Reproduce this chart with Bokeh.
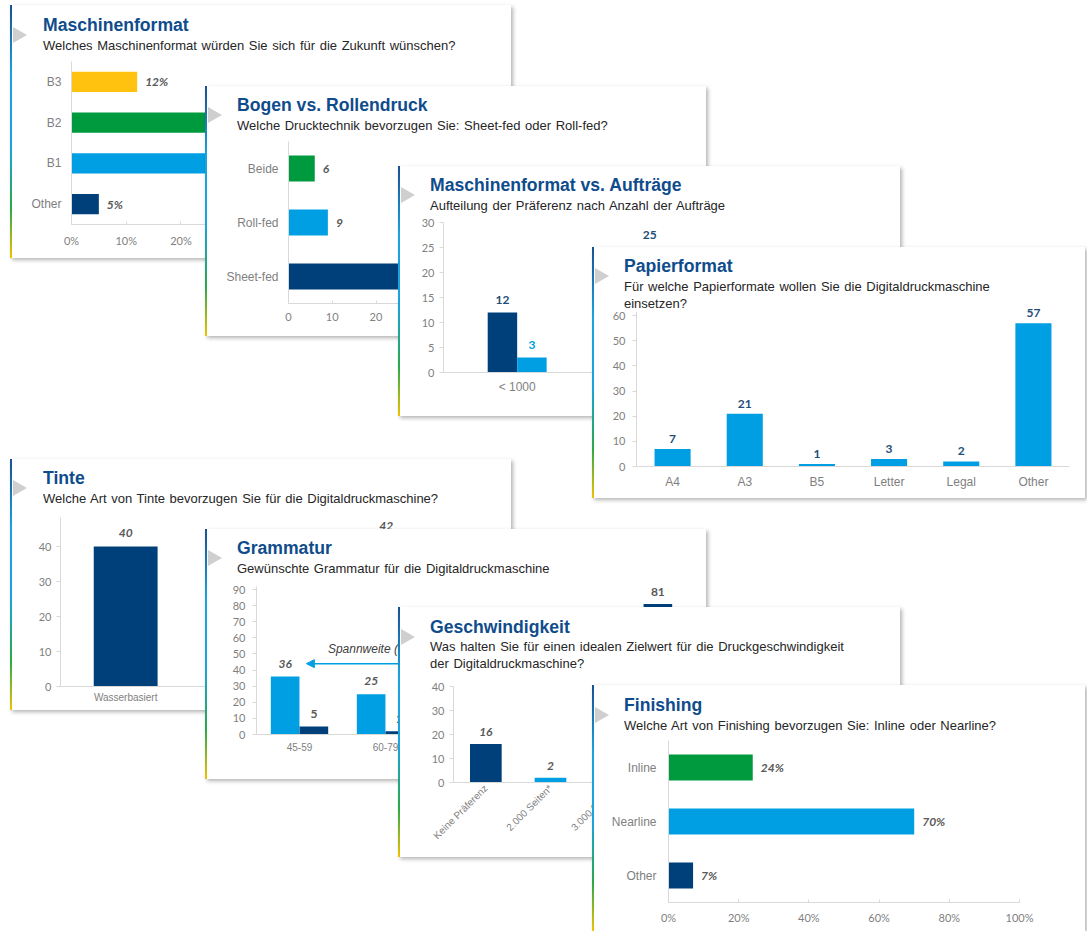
import math
from bokeh.plotting import figure
from bokeh.models import (ColumnDataSource, FactorRange, Range1d, Label, LabelSet, Div,
                          Arrow, NormalHead, NumeralTickFormatter, SingleIntervalTicker, Column)
from bokeh.transform import dodge
from bokeh.embed import file_html
from bokeh.resources import INLINE
from bokeh.core.properties import value

# ---------------- data ----------------
# 1 Maschinenformat
fmt_cats = ["B3", "B2", "B1", "Other"]
fmt_vals = [0.12, 0.41, 0.42, 0.05]
# 2 Bogen vs. Rollendruck
druck_cats = ["Beide", "Roll-fed", "Sheet-fed"]
druck_vals = [6, 9, 66]
# 3 Maschinenformat vs. Aufträge
auf_cats = ["< 1000", "1000 - 5000", "> 5000"]
auf_dark = [12, 25, 8]
auf_light = [3, 9, 4]
# 4 Papierformat
pap_cats = ["A4", "A3", "B5", "Letter", "Legal", "Other"]
pap_vals = [7, 21, 1, 3, 2, 57]
# 5 Tinte
tinte_cats = ["Wasserbasiert", "Lösemittel", "UV-härtend"]
tinte_vals = [40, 17, 42]
# 6 Grammatur
gram_cats = ["45-59", "60-79", "80-99", "100-149", "150-300"]
gram_light = [36, 25, 22, 14, 6]
gram_dark = [5, 2, 10, 30, 81]
# 7 Geschwindigkeit
gesch_cats = ["Keine Präferenz", "2.000 Seiten*", "3.000 Seiten*", "4.000 Seiten*",
              "5.000 Seiten*", "> 5.000 Seiten*"]
gesch_vals = [16, 2, 6, 11, 19, 35]
# 8 Finishing
fin_cats = ["Inline", "Nearline", "Other"]
fin_vals = [0.24, 0.70, 0.07]

# ---------------- style ----------------
DARK = "#00407a"
LIGHT = "#009fe3"
GREEN = "#009a3e"
YELLOW = "#ffc20e"
TITLE_C = "#0f4c8c"
SUB_C = "#262626"
TICK_C = "#7f7f7f"
AXIS_C = "#d9d9d9"
VAL_C = "#595959"
SANS = "Liberation Sans"
NUM = "Lato"

GRADIENT = ("linear-gradient(to bottom, #1b4f8f 0%, #1aa3e0 28%, #1aa3e0 55%, "
            "#2aa84a 80%, #f3c300 100%) 1")


def make_card(L, T, right, bottom, frame, x_range, y_range, title, subs):
    """Card placed in page pixels; returns (card_layout, figure)."""
    CL = L + 2
    CW = right - CL
    H = bottom - T
    fx0, fy0, fx1, fy1 = frame
    tx, ty, ttext = title
    cy = (ty + subs[0][1]) / 2.0
    parts = [
        f'<div style="position:absolute;left:1px;top:{cy - T - 8:.1f}px;width:0;height:0;'
        f'border-top:8px solid transparent;border-bottom:8px solid transparent;'
        f'border-left:14px solid #cfcfcf;"></div>',
        f'<div style="position:absolute;left:{tx - CL}px;top:{ty - T - 10:.1f}px;'
        f'font-family:\'{SANS}\';font-size:17.6px;font-weight:bold;line-height:20px;'
        f'color:{TITLE_C};white-space:nowrap;">{ttext}</div>',
    ]
    for (ux, uy, utext) in subs:
        parts.append(
            f'<div style="position:absolute;left:{ux - CL}px;top:{uy - T - 8.5:.1f}px;'
            f'font-family:\'{SANS}\';font-size:13px;line-height:17px;color:{SUB_C};'
            f'background:white;white-space:nowrap;word-spacing:1px;">{utext}</div>')
    DH = int(subs[-1][1] - T + 10)
    html = (f'<div style="position:relative;width:{CW}px;height:{DH}px;margin:0;padding:0;">'
            + "".join(parts) + '</div>')
    div = Div(text=html, width=CW, height=DH,
              styles={"position": "absolute", "left": "0px", "top": "0px",
                      "z-index": "2", "overflow": "visible", "margin": "0"})

    p = figure(width=CW, height=H, x_range=x_range, y_range=y_range,
               output_backend="svg", toolbar_location=None, title=None,
               min_border_left=fx0 - CL, min_border_top=fy0 - T,
               min_border_right=CL + CW - fx1, min_border_bottom=T + H - fy1,
               background_fill_color="white", border_fill_color="white",
               outline_line_color=None, frame_align=False)
    p.grid.visible = False
    card = Column(children=[p, div], width=CW, height=H, spacing=0,
                  styles={"position": "absolute", "left": f"{L}px", "top": f"{T}px",
                          "background-color": "white",
                          "border-left": "2px solid #1aa3e0", "border-image": GRADIENT,
                          "box-shadow": "2px 2px 4px rgba(0,0,0,0.30)"})
    return card, p


def style_axis(ax, size, font, out=0, inn=0, standoff=6, ticks=True):
    ax.axis_line_color = AXIS_C
    ax.major_tick_line_color = AXIS_C if ticks else None
    ax.major_tick_out = out
    ax.major_tick_in = inn
    ax.minor_tick_line_color = None
    ax.major_label_text_color = TICK_C
    ax.major_label_text_font = font
    ax.major_label_text_font_size = size
    ax.major_label_standoff = standoff


def val_labels(p, src, x, y, text, color=VAL_C, style="bold italic", xo=0, yo=0,
               align="center", baseline="bottom", size="12px"):
    p.add_layout(LabelSet(x=x, y=y, text=text, source=src, x_offset=xo, y_offset=yo,
                          text_font=value(NUM), text_font_style=style, text_font_size=size,
                          text_color=color, text_align=align, text_baseline=baseline))


def pct(v):
    return f"{round(v * 100)}%"


cards = []

# ---- 1 Maschinenformat ----
c1, p1 = make_card(10, 5, 513, 258, (71, 61, 456, 224), Range1d(0, 0.7),
                   FactorRange(factors=list(reversed(fmt_cats))),
                   (43, 25, "Maschinenformat"),
                   [(43, 45, "Welches Maschinenformat würden Sie sich für die Zukunft wünschen?")])
s1 = ColumnDataSource(dict(cat=fmt_cats, val=fmt_vals, color=[YELLOW, GREEN, LIGHT, DARK],
                           label=[pct(v) for v in fmt_vals]))
p1.hbar(y="cat", left=0, right="val", height=0.5, color="color", line_color=None, source=s1)
val_labels(p1, s1, "val", "cat", "label", xo=8, align="left", baseline="middle")
p1.xaxis.ticker = SingleIntervalTicker(interval=0.1)
p1.xaxis.formatter = NumeralTickFormatter(format="0%")
style_axis(p1.xaxis[0], "11px", NUM, inn=3, standoff=5)
style_axis(p1.yaxis[0], "12px", SANS, standoff=10, ticks=False)
cards.append(c1)

# ---- 2 Bogen vs. Rollendruck ----
c2, p2 = make_card(205, 86, 708, 336, (288, 141, 640, 303), Range1d(0, 80),
                   FactorRange(factors=list(reversed(druck_cats))),
                   (237, 105, "Bogen vs. Rollendruck"),
                   [(237, 125, "Welche Drucktechnik bevorzugen Sie: Sheet-fed oder Roll-fed?")])
s2 = ColumnDataSource(dict(cat=druck_cats, val=druck_vals, color=[GREEN, LIGHT, DARK],
                           label=[str(v) for v in druck_vals]))
p2.hbar(y="cat", left=0, right="val", height=0.48, color="color", line_color=None, source=s2)
val_labels(p2, s2, "val", "cat", "label", xo=8, align="left", baseline="middle")
p2.xaxis.ticker = SingleIntervalTicker(interval=10)
style_axis(p2.xaxis[0], "11px", NUM, inn=3, standoff=5)
style_axis(p2.yaxis[0], "12px", SANS, standoff=10, ticks=False)
cards.append(c2)

# ---- 3 Maschinenformat vs. Aufträge ----
c3, p3 = make_card(398, 166, 902, 416, (443, 222, 887, 372), FactorRange(factors=auf_cats),
                   Range1d(0, 30),
                   (430, 185, "Maschinenformat vs. Aufträge"),
                   [(430, 205, "Aufteilung der Präferenz nach Anzahl der Aufträge")])
s3 = ColumnDataSource(dict(cat=auf_cats, dark=auf_dark, light=auf_light,
                           dl=[str(v) for v in auf_dark], ll=[str(v) for v in auf_light]))
p3.vbar(x=dodge("cat", -0.1, range=p3.x_range), top="dark", width=0.2, color=DARK,
        line_color=None, source=s3)
p3.vbar(x=dodge("cat", 0.1, range=p3.x_range), top="light", width=0.2, color=LIGHT,
        line_color=None, source=s3)
val_labels(p3, s3, dodge("cat", -0.1, range=p3.x_range), "dark", "dl", color="#1f4e79",
           style="bold", yo=9)
val_labels(p3, s3, dodge("cat", 0.1, range=p3.x_range), "light", "ll", color=LIGHT,
           style="bold", yo=9)
p3.yaxis.ticker = SingleIntervalTicker(interval=5)
style_axis(p3.yaxis[0], "11px", NUM, out=4, standoff=5)
style_axis(p3.xaxis[0], "12px", SANS, standoff=7, ticks=False)
cards.append(c3)

# ---- 4 Papierformat ----
c4, p4 = make_card(592, 247, 1087, 498, (636, 302, 1071, 466), FactorRange(factors=pap_cats),
                   Range1d(0, 65.2),
                   (624, 266, "Papierformat"),
                   [(624, 286, "Für welche Papierformate wollen Sie die Digitaldruckmaschine"),
                    (624, 303, "einsetzen?")])
s4 = ColumnDataSource(dict(cat=pap_cats, val=pap_vals, label=[str(v) for v in pap_vals]))
p4.vbar(x="cat", top="val", width=0.5, color=LIGHT, line_color=None, source=s4)
val_labels(p4, s4, "cat", "val", "label", color="#1f4e79", style="bold", yo=6)
p4.yaxis.ticker = SingleIntervalTicker(interval=10)
style_axis(p4.yaxis[0], "11px", NUM, out=4, standoff=7)
style_axis(p4.xaxis[0], "12px", SANS, standoff=8, ticks=False)
cards.append(c4)

# ---- 5 Tinte ----
c5, p5 = make_card(10, 459, 513, 710, (60, 517, 453, 686), FactorRange(factors=tinte_cats),
                   Range1d(0, 48.3),
                   (43, 478, "Tinte"),
                   [(43, 498, "Welche Art von Tinte bevorzugen Sie für die Digitaldruckmaschine?")])
s5 = ColumnDataSource(dict(cat=tinte_cats, val=tinte_vals, label=[str(v) for v in tinte_vals]))
p5.vbar(x="cat", top="val", width=0.49, color=DARK, line_color=None, source=s5)
val_labels(p5, s5, "cat", "val", "label", yo=10)
p5.yaxis.ticker = SingleIntervalTicker(interval=10)
style_axis(p5.yaxis[0], "11px", NUM, out=4, standoff=5)
style_axis(p5.xaxis[0], "10px", SANS, standoff=5, ticks=False)
cards.append(c5)

# ---- 6 Grammatur ----
c6, p6 = make_card(205, 529, 708, 779, (256, 586, 688, 734), FactorRange(factors=gram_cats),
                   Range1d(0, 91.9),
                   (237, 548, "Grammatur"),
                   [(237, 568, "Gewünschte Grammatur für die Digitaldruckmaschine")])
s6 = ColumnDataSource(dict(cat=gram_cats, light=gram_light, dark=gram_dark,
                           ll=[str(v) for v in gram_light], dl=[str(v) for v in gram_dark]))
p6.vbar(x=dodge("cat", -0.167, range=p6.x_range), top="light", width=0.333, color=LIGHT,
        line_color=None, source=s6)
p6.vbar(x=dodge("cat", 0.167, range=p6.x_range), top="dark", width=0.333, color=DARK,
        line_color=None, source=s6)
val_labels(p6, s6, dodge("cat", -0.167, range=p6.x_range), "light", "ll", yo=9)
val_labels(p6, s6, dodge("cat", 0.167, range=p6.x_range), "dark", "dl", style="bold", yo=8)
p6.add_layout(Arrow(end=NormalHead(size=8, fill_color=LIGHT, line_color=LIGHT),
                    x_start=2.6, y_start=44, x_end=0.58, y_end=44,
                    line_color=LIGHT, line_width=1.5))
p6.add_layout(Label(x=0.83, y=53, text="Spannweite (60 – 300 g/m²)",
                    text_font=SANS, text_font_style="italic", text_font_size="12px",
                    text_color="#404040", text_baseline="middle", text_align="left"))
p6.yaxis.ticker = SingleIntervalTicker(interval=10)
style_axis(p6.yaxis[0], "11px", NUM, out=4, standoff=7)
style_axis(p6.xaxis[0], "10px", SANS, standoff=8, ticks=False)
cards.append(c6)

# ---- 7 Geschwindigkeit ----
c7, p7 = make_card(398, 607, 902, 857, (453, 686, 843, 782), FactorRange(factors=gesch_cats),
                   Range1d(0, 40),
                   (430, 627, "Geschwindigkeit"),
                   [(430, 646, "Was halten Sie für einen idealen Zielwert für die Druckgeschwindigkeit"),
                    (430, 663, "der Digitaldruckmaschine?")])
s7 = ColumnDataSource(dict(cat=gesch_cats, val=gesch_vals,
                           color=[DARK] + [LIGHT] * (len(gesch_cats) - 1),
                           label=[str(v) for v in gesch_vals]))
p7.vbar(x="cat", top="val", width=0.49, color="color", line_color=None, source=s7)
val_labels(p7, s7, "cat", "val", "label", yo=8)
p7.yaxis.ticker = SingleIntervalTicker(interval=10)
p7.xaxis.major_label_orientation = math.pi / 4
style_axis(p7.yaxis[0], "11px", NUM, out=4, standoff=5)
style_axis(p7.xaxis[0], "10px", SANS, standoff=4, ticks=False)
cards.append(c7)

# ---- 8 Finishing ----
c8, p8 = make_card(592, 685, 1087, 931, (668, 740, 1021, 902), Range1d(0, 1),
                   FactorRange(factors=list(reversed(fin_cats))),
                   (624, 705, "Finishing"),
                   [(624, 725, "Welche Art von Finishing bevorzugen Sie: Inline oder Nearline?")])
s8 = ColumnDataSource(dict(cat=fin_cats, val=fin_vals, color=[GREEN, LIGHT, DARK],
                           label=[pct(v) for v in fin_vals]))
p8.hbar(y="cat", left=0, right="val", height=0.48, color="color", line_color=None, source=s8)
val_labels(p8, s8, "val", "cat", "label", xo=8, align="left", baseline="middle")
p8.xaxis.ticker = SingleIntervalTicker(interval=0.2)
p8.xaxis.formatter = NumeralTickFormatter(format="0%")
style_axis(p8.xaxis[0], "11px", NUM, inn=3, standoff=4)
style_axis(p8.yaxis[0], "12px", SANS, standoff=12, ticks=False)
cards.append(c8)

layout = Column(children=cards, width=1071, height=915)

open("out.html", "w").write(file_html(layout, INLINE))
